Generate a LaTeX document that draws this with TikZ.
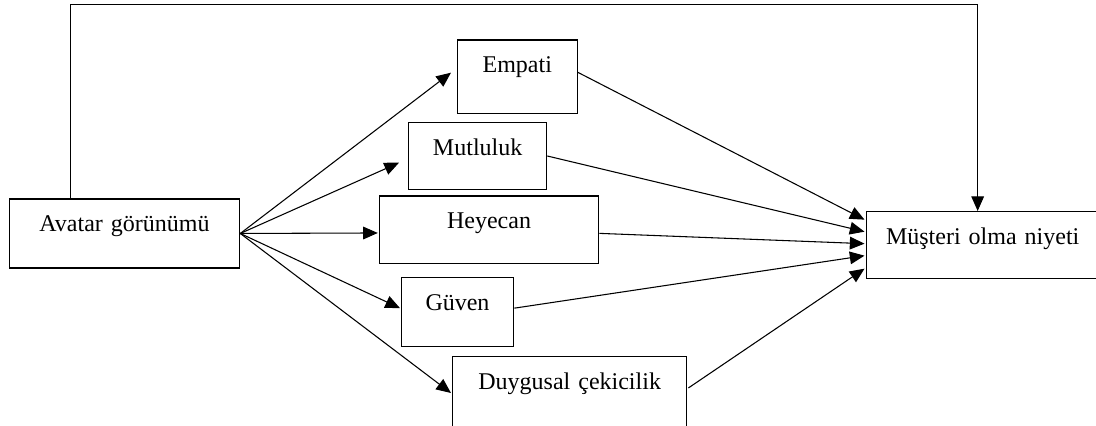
\documentclass[tikz,border=0pt]{standalone}
\usepackage{fontspec}
\setmainfont{Liberation Serif}
\usetikzlibrary{arrows.meta}
\begin{document}
\begin{tikzpicture}[x=0.75pt,y=-0.75pt,
  bx/.style 2 args={draw, line width=1pt, inner sep=0pt, text width=#1, align=center,
    text height=24.75pt, text depth=#2, anchor=north west,
    font=\fontsize{18pt}{21pt}\selectfont},
  arr/.style={-{Triangle[length=11pt,width=9.5pt]}, line width=0.8pt}]
\useasboundingbox (0,0) rectangle (1096,425);
\clip (0,0) rectangle (1096,425);
\node[bx={172.7pt}{27pt}]    (avatar)   at (8.7,198.3)  {Avatar görünümü};
\node[bx={89.9pt}{30.3pt}]   (empati)   at (456.7,39.3) {Empati};
\node[bx={103.5pt}{25.7pt}]  (mutluluk) at (408,121.7)  {Mutluluk};
\node[bx={164.4pt}{25.8pt}]  (heyecan)  at (378.8,195.3){Heyecan};
\node[bx={84.2pt}{27pt}]     (guven)    at (400.7,277)  {Güven};
\node[bx={175.5pt}{35.25pt}] (duygusal) at (452,356)    {Duygusal çekicilik};
\node[bx={174pt}{25.5pt}]    (musteri)  at (866,211)    {Müşteri olma niyeti};

% avatar -> mediators
\draw[arr] (avatar.east) -- ([shift={(-5.7,-4)}]empati.west);
\draw[arr] (avatar.east) -- ([shift={(-9,6.7)}]mutluluk.west);
\draw[arr] (avatar.east) -- ([shift={(-1,3.3)}]heyecan.west);
\draw[arr] (avatar.east) -- ([shift={(-0.7,-4)}]guven.west);
\draw[arr] (avatar.east) -- ([shift={(-1,37)}]duygusal.north west);

% mediators -> musteri
\draw[arr] ([shift={(0,-4.3)}]empati.east) -- ([shift={(-1.5,-25.5)}]musteri.west);
\draw[arr] (mutluluk.east) -- ([shift={(-1.5,-13.5)}]musteri.west);
\draw[arr] ([shift={(0,3.7)}]heyecan.east) -- ([shift={(-1.5,-1.5)}]musteri.west);
\draw[arr] ([shift={(0,-4)}]guven.east) -- ([shift={(-1.5,10.5)}]musteri.west);
\draw[arr] ([shift={(1,32)}]duygusal.north east) -- ([shift={(-1.5,23.5)}]musteri.west);

% direct path
\draw[arr] ([shift={(62.1,0)}]avatar.north west) -- ++(0,-193.8) -| ([shift={(-5,0)}]musteri.north);
\end{tikzpicture}
\end{document}
